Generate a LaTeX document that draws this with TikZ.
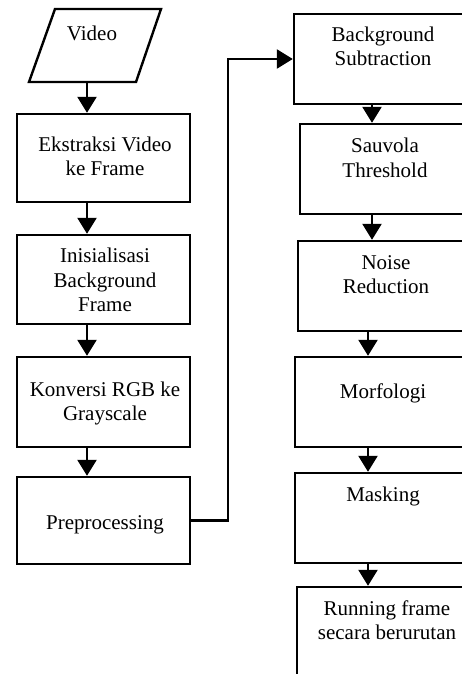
\documentclass[tikz,border=0pt]{standalone}
\usepackage{fontspec}
\setmainfont{Liberation Serif}
\usetikzlibrary{arrows.meta}
\begin{document}
\begin{tikzpicture}[x=1pt,y=-1pt,
  box/.style={draw, line width=2.4pt, rectangle, inner sep=0pt},
  txt/.style={font=\fontsize{21}{24.5}\selectfont, align=center, inner sep=0pt, anchor=base},
  arr/.style={line width=2.4pt, -{Triangle[length=16pt,width=19pt]}},
  link/.style={line width=2.4pt}]
\useasboundingbox (0,0) rectangle (462,674);
\clip (0,0) rectangle (462,674);

% columns used by the connectors
\coordinate (colL) at (87,0);
\coordinate (colM) at (228,0);
\coordinate (colA) at (372,0);
\coordinate (colB) at (368,0);

% input: video (parallelogram)
\draw[link] (55,9) -- (161,9) -- (136,82) -- (29,82) -- cycle;
\coordinate (vbot) at (87,82);
\node[txt] (video) at (92,41) {Video};

% left column (text nodes sit on the baseline of their last line)
\node[box, minimum width=173pt, minimum height=88pt] (b1) at (103.5,158) {};
\node[box, minimum width=173pt, minimum height=89pt] (b2) at (103.5,279.5) {};
\node[box, minimum width=173pt, minimum height=90pt] (b3) at (103.5,402) {};
\node[box, minimum width=173pt, minimum height=87pt] (b4) at (103.5,520.5) {};
\node[txt] (t1) at (105,175.5) {Ekstraksi Video\\ke Frame};
\node[txt] (t2) at (105,311.5) {Inisialisasi\\Background\\Frame};
\node[txt] (t3) at (105,420.5) {Konversi RGB ke\\Grayscale};
\node[txt] (t4) at (105,529) {Preprocessing};

% right column
\node[box, minimum width=178pt, minimum height=90pt] (r1) at (383,59) {};
\node[box, minimum width=170pt, minimum height=90pt] (r2) at (385,169) {};
\node[box, minimum width=176pt, minimum height=90pt] (r3) at (386,286) {};
\node[box, minimum width=176pt, minimum height=90pt] (r4) at (383,402) {};
\node[box, minimum width=176pt, minimum height=90pt] (r5) at (383,518) {};
\node[box, minimum width=180pt, minimum height=113pt] (r6) at (387,643.5) {};
\node[txt] (s1) at (383,66) {Background\\Subtraction};
\node[txt] (s2) at (385,177) {Sauvola\\Threshold};
\node[txt] (s3) at (386,293.5) {Noise\\Reduction};
\node[txt] (s4) at (383,398) {Morfologi};
\node[txt] (s5) at (383,501.5) {Masking};
\node[txt] (s6) at (387,639.5) {Running frame\\secara berurutan};

% connectors
\draw[arr] (vbot) -- (b1.north -| colL);
\draw[arr] (b1.south -| colL) -- (b2.north -| colL);
\draw[arr] (b2.south -| colL) -- (b3.north -| colL);
\draw[arr] (b3.south -| colL) -- (b4.north -| colL);
\draw[arr] (b4.east) -- (b4.east -| colM) |- (r1.west);
\draw[arr] (r1.south -| colA) -- (r2.north -| colA);
\draw[arr] (r2.south -| colA) -- (r3.north -| colA);
\draw[arr] (r3.south -| colB) -- (r4.north -| colB);
\draw[arr] (r4.south -| colB) -- (r5.north -| colB);
\draw[arr] (r5.south -| colB) -- (r6.north -| colB);
\end{tikzpicture}
\end{document}
